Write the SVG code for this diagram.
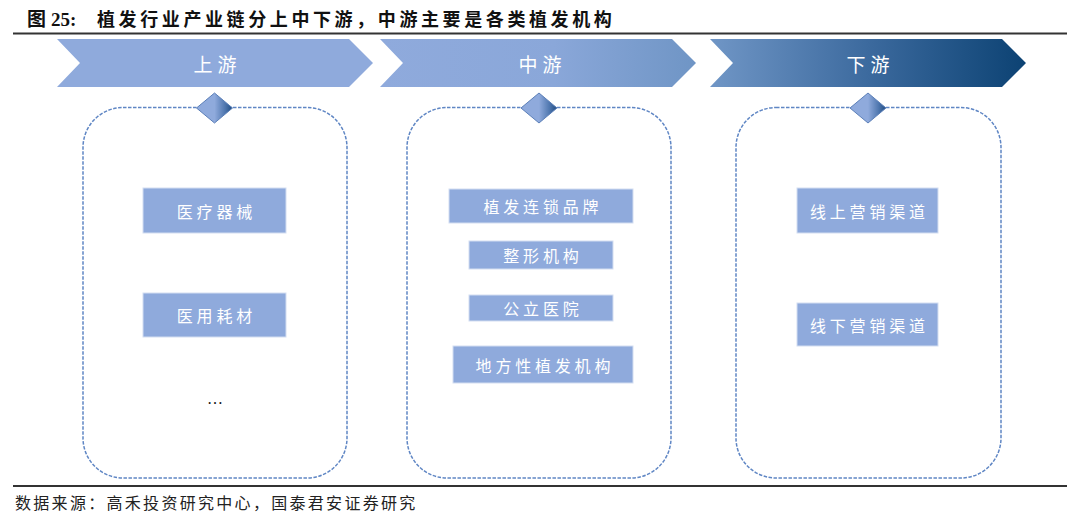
<svg xmlns="http://www.w3.org/2000/svg" width="1080" height="516" viewBox="0 0 1080 516">
<defs>
<linearGradient id="g2" x1="0" y1="0" x2="1" y2="0">
<stop offset="0" stop-color="#8FAADC"/>
<stop offset="0.55" stop-color="#8AA7D9"/>
<stop offset="1" stop-color="#6F95C5"/>
</linearGradient>
<linearGradient id="g3" x1="0" y1="0" x2="1" y2="0">
<stop offset="0" stop-color="#7096C6"/>
<stop offset="0.5" stop-color="#3C6A9E"/>
<stop offset="1" stop-color="#0C4273"/>
</linearGradient>
<linearGradient id="gd" x1="0" y1="0" x2="1" y2="0">
<stop offset="0" stop-color="#8FAADC"/>
<stop offset="0.5" stop-color="#8FAADC"/>
<stop offset="0.8" stop-color="#4E76AE"/>
<stop offset="1" stop-color="#1E4B80"/>
</linearGradient>
<path id="dia" d="M-18,0 L0,-15 L18,0 L0,15 Z"/>
</defs>
<style>
.title{font-family:"Liberation Serif","Noto Sans CJK SC",serif;font-size:19px;font-weight:bold;fill:#111}
.tcjk{font-family:"Noto Sans CJK SC",sans-serif;font-size:18px;font-weight:bold;fill:#111;letter-spacing:3.6px}
.src{font-family:"Noto Sans CJK SC",sans-serif;font-size:16px;fill:#222;letter-spacing:2.3px}
.rule{stroke:#333;stroke-width:2}
.chev{stroke:none}
.ctext{font-family:"Noto Sans CJK SC",sans-serif;font-size:19px;fill:#fff;letter-spacing:5px;text-anchor:middle;dominant-baseline:central}
.frame{fill:#fff;stroke:#5F86C4;stroke-width:1.5;stroke-dasharray:3.5 1.5}
.item{fill:#8FAADC;stroke:#D3DEF1;stroke-width:1}
.itext{font-family:"Noto Sans CJK SC",sans-serif;font-size:16px;fill:#fff;letter-spacing:3.8px;text-anchor:middle;dominant-baseline:central}
.dia{fill:url(#gd);stroke:#5B7FB8;stroke-width:1}
</style>
<rect width="1080" height="516" fill="#fff"/>

<g id="header">
<text class="title" x="27" y="26">图</text>
<text class="title" x="51" y="26">25:</text>
<text class="tcjk" x="97" y="26">植发行业产业链分上中下游，中游主要是各类植发机构</text>
<line class="rule" x1="13" y1="33.5" x2="1067" y2="33.5"/>
</g>

<g id="stage-upstream">
<path class="chev" fill="#8FAADC" d="M57,39 L349,39 L373,63 L349,87 L57,87 L80,63 Z"/>
<text class="ctext" x="217.5" y="63">上游</text>
</g>
<g id="stage-midstream">
<path class="chev" fill="url(#g2)" d="M380,39 L672,39 L696,63 L672,87 L380,87 L403,63 Z"/>
<text class="ctext" x="542.5" y="63">中游</text>
</g>
<g id="stage-downstream">
<path class="chev" fill="url(#g3)" d="M710,39 L1002,39 L1026,63 L1002,87 L710,87 L733,63 Z"/>
<text class="ctext" x="870.5" y="63">下游</text>
</g>

<g id="box-upstream">
<rect class="frame" x="83" y="107.5" width="264" height="370.5" rx="40" ry="40"/>
<rect class="item" x="143" y="188" width="143" height="45"/>
<text class="itext" x="216.4" y="210.5">医疗器械</text>
<rect class="item" x="143" y="293" width="143" height="44"/>
<text class="itext" x="216.4" y="315">医用耗材</text>
<text x="207" y="404" font-family="Liberation Serif,serif" font-size="16" fill="#111">…</text>
</g>

<g id="box-midstream">
<rect class="frame" x="407" y="107.5" width="264" height="370.5" rx="40" ry="40"/>
<rect class="item" x="449" y="189" width="184" height="34"/>
<text class="itext" x="542.9" y="206">植发连锁品牌</text>
<rect class="item" x="469" y="241" width="144" height="28"/>
<text class="itext" x="542.9" y="255">整形机构</text>
<rect class="item" x="469" y="295" width="144" height="26"/>
<text class="itext" x="542.9" y="308">公立医院</text>
<rect class="item" x="453" y="346" width="180" height="37"/>
<text class="itext" x="544.9" y="364.5">地方性植发机构</text>
</g>

<g id="box-downstream">
<rect class="frame" x="736" y="107.5" width="265" height="370.5" rx="40" ry="40"/>
<rect class="item" x="797" y="188" width="141" height="45"/>
<text class="itext" x="869.4" y="210.5">线上营销渠道</text>
<rect class="item" x="797" y="303" width="141" height="43"/>
<text class="itext" x="869.4" y="324.5">线下营销渠道</text>
</g>

<g id="connectors">
<use href="#dia" class="dia" x="214.5" y="108"/>
<use href="#dia" class="dia" x="539" y="108"/>
<use href="#dia" class="dia" x="868" y="108"/>
</g>

<g id="footer">
<line class="rule" x1="13" y1="486" x2="1067" y2="486"/>
<text class="src" x="15" y="509">数据来源：高禾投资研究中心，国泰君安证券研究</text>
</g>
</svg>
